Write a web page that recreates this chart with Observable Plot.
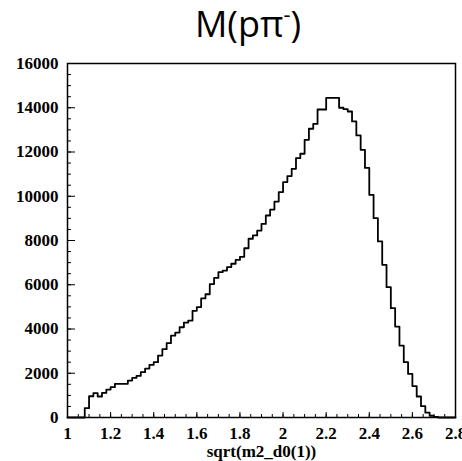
<!DOCTYPE html>
<html>
<head>
<meta charset="utf-8">
<script src="https://cdn.jsdelivr.net/npm/d3@7"></script>
<script src="https://cdn.jsdelivr.net/npm/@observablehq/plot@0.6"></script>
<style>
  html, body { margin: 0; padding: 0; background: #fff; }
  body { width: 462px; height: 461px; overflow: hidden; position: relative; }
  #head { position: relative; height: 48px; }
  #title { position: absolute; left: 248px; top: 0; transform: translateX(-50%);
           font-family: "Open Sans", "Noto Sans", sans-serif; font-size: 36px; line-height: 48px;
           color: #000; white-space: nowrap; }
  #title sup { font-size: 0.6em; line-height: 0; vertical-align: 0.7em; }
</style>
</head>
<body>
<div id="head"><div id="title">M(pπ<sup>-</sup>)</div></div>
<div id="chart"></div>
<script>
// Histogram definition
const xMin = 1.0;
const xMax = 2.8;
const binWidth = 0.02;
// Bin contents (90 bins of width 0.02 from 1.0 to 2.8)
const counts = [
  0, 0, 0, 0, 420, 960, 1100, 950, 1110, 1260,
  1370, 1520, 1520, 1520, 1670, 1790, 1880, 2050, 2210, 2380,
  2500, 2800, 3090, 3360, 3700, 3840, 4080, 4290, 4380, 4820,
  4990, 5380, 5570, 6030, 6310, 6570, 6640, 6800, 6950, 7120,
  7260, 7650, 8080, 8230, 8450, 8750, 9130, 9400, 9760, 10190,
  10640, 10910, 11240, 11720, 11920, 12550, 13050, 13270, 13920, 13920,
  14450, 14450, 14450, 14000, 13940, 13830, 13380, 12750, 12100, 11280,
  10060, 9010, 7960, 6900, 5890, 4940, 4110, 3250, 2500, 1970,
  1420, 950, 510, 220, 80, 30, 0, 0, 0, 0
];
// Axis ticks
const xTicks = [1, 1.2, 1.4, 1.6, 1.8, 2, 2.2, 2.4, 2.6, 2.8];
const yTicks = [0, 2000, 4000, 6000, 8000, 10000, 12000, 14000, 16000];
const xMinorStep = 0.05;
const yMinorStep = 500;
const xLabel = "sqrt(m2_d0(1))";

const xMinor = d3.range(0, Math.round((xMax - xMin) / xMinorStep) + 1).map(i => +(xMin + i * xMinorStep).toFixed(3));
const yMinor = d3.range(0, 16000 / yMinorStep + 1).map(i => i * yMinorStep);

const points = counts.map((c, i) => ({x: +(xMin + i * binWidth).toFixed(3), y: c}));
points.push({x: xMax, y: counts[counts.length - 1]});

const chart = Plot.plot({
  width: 462,
  height: 413,
  marginLeft: 67,
  marginRight: 7,
  marginTop: 15,
  marginBottom: 44,
  style: {fontFamily: "'Liberation Serif', 'Times New Roman', serif", fontWeight: "bold", fontSize: "17px", color: "#000", background: "#fff", overflow: "visible"},
  x: {domain: [xMin, xMax], label: null},
  y: {domain: [0, 16000], label: null},
  marks: [
    Plot.lineY(points, {x: "x", y: "y", curve: "step-after", stroke: "#000", strokeWidth: 1.8}),
    Plot.axisX({ticks: xMinor, tickSize: -3, anchor: "bottom", fill: "none", label: null}),
    Plot.axisX({ticks: xTicks, tickSize: -5, anchor: "bottom", fill: "none", label: null}),
    Plot.axisY({ticks: yMinor, tickSize: -4, anchor: "left", fill: "none", label: null}),
    Plot.axisY({ticks: yTicks, tickSize: -8, anchor: "left", fill: "none", label: null}),
    Plot.axisY({ticks: yTicks, tickSize: 0, tickPadding: 9, tickFormat: d3.format("d"), label: null, anchor: "left"}),
    Plot.axisX({ticks: xTicks, tickSize: 0, tickPadding: 9, tickFormat: d => String(d), anchor: "bottom",
                label: xLabel, labelAnchor: "center", labelOffset: 39, labelArrow: "none"}),
    Plot.frame({stroke: "#000", strokeWidth: 1.5})
  ]
});
document.getElementById("chart").appendChild(chart);
</script>
</body>
</html>
